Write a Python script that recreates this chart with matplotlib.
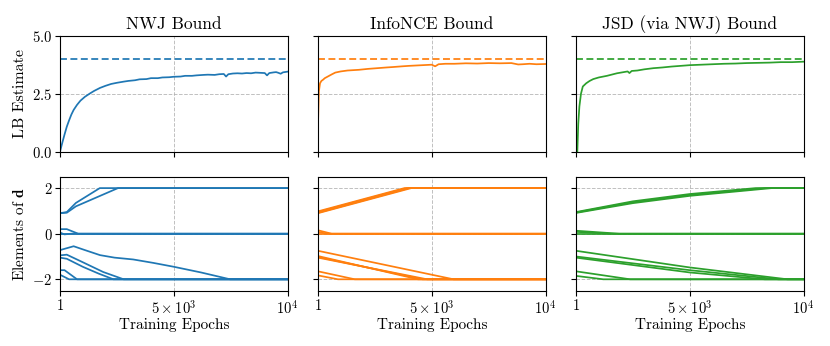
import matplotlib
matplotlib.use("Agg")
import matplotlib.pyplot as plt
import numpy as np

plt.rcParams['font.family'] = ['cmr10', 'DejaVu Serif']
plt.rcParams['mathtext.fontset'] = 'cm'
plt.rcParams['axes.unicode_minus'] = False
plt.rcParams['axes.formatter.use_mathtext'] = True

titles = ["NWJ Bound", "InfoNCE Bound", "JSD (via NWJ) Bound"]
colors = ["#1f77b4", "#ff7f0e", "#2ca02c"]
true_mi = 3.98

# --- LB estimate curves (epoch, value) ---
nwj_ep = [1, 100, 200, 300, 400, 500, 600, 750, 900, 1100, 1300, 1500, 1760, 2000, 2250, 2500,
          2800, 3000, 3300, 3500, 3800, 4000, 4300, 4500, 4800, 5000, 5300, 5500, 5800, 6000,
          6300, 6500, 6800, 7000, 7200, 7300, 7400, 7600, 7800, 8000, 8200, 8400, 8600, 8800,
          9000, 9100, 9200, 9400, 9500, 9600, 9700, 9800, 10000]
nwj_lb = [0.0, 0.38, 0.74, 1.08, 1.35, 1.6, 1.8, 2.02, 2.2, 2.37, 2.5, 2.62, 2.75, 2.84, 2.92, 2.97,
          3.02, 3.05, 3.08, 3.12, 3.13, 3.17, 3.17, 3.2, 3.21, 3.23, 3.24, 3.27, 3.27, 3.29,
          3.31, 3.32, 3.31, 3.34, 3.35, 3.24, 3.34, 3.37, 3.38, 3.37, 3.39, 3.38, 3.41, 3.40,
          3.39, 3.29, 3.39, 3.42, 3.43, 3.40, 3.36, 3.42, 3.45]

nce_ep = [1, 40, 90, 150, 220, 300, 450, 600, 760, 1000, 1300, 1800, 2200, 2600, 3000, 3300,
          3700, 4000, 4400, 4800, 5000, 5150, 5300, 5600, 6000, 6500, 7000, 7500, 8000, 8500,
          8800, 9000, 9300, 9600, 10000]
nce_lb = [1.2, 2.6, 2.95, 3.05, 3.1, 3.17, 3.25, 3.33, 3.41, 3.46, 3.5, 3.53, 3.57, 3.6, 3.63, 3.65,
          3.68, 3.7, 3.72, 3.74, 3.75, 3.68, 3.77, 3.79, 3.79, 3.81, 3.8, 3.82, 3.81, 3.82,
          3.76, 3.77, 3.79, 3.77, 3.78]

jsd_ep = [1, 60, 100, 150, 220, 300, 450, 600, 760, 1000, 1360, 1800, 2270, 2350, 2450, 2700,
          3000, 3400, 3790, 4200, 4600, 5000, 5500, 6000, 6500, 7000, 7500, 8000, 8500, 9000,
          9500, 10000]
jsd_lb = [-1.0, 0.0, 1.2, 1.95, 2.5, 2.81, 2.95, 3.05, 3.13, 3.2, 3.27, 3.38, 3.46, 3.39, 3.48, 3.5,
          3.55, 3.6, 3.63, 3.67, 3.7, 3.73, 3.75, 3.77, 3.79, 3.8, 3.82, 3.83, 3.84, 3.86,
          3.86, 3.88]

lb_ep = [nwj_ep, nce_ep, jsd_ep]
lb_val = [nwj_lb, nce_lb, jsd_lb]

# --- elements of d trajectories: list of (epochs, values) per panel ---
nwj_d = [
    ([1, 300, 700, 1750, 10000], [0.9, 0.95, 1.35, 2.0, 2.0]),
    ([1, 300, 700, 2550, 10000], [0.9, 0.92, 1.2, 2.0, 2.0]),
    ([1, 300, 800, 10000], [0.2, 0.2, 0.0, 0.0]),
    ([1, 200, 500, 10000], [0.05, -0.03, 0.0, 0.0]),
    ([1, 10000], [0.0, 0.0]),
    ([1, 600, 1100, 1760, 2400, 3220, 4100, 5000, 6200, 7480, 10000],
     [-0.72, -0.55, -0.72, -0.94, -1.05, -1.13, -1.28, -1.45, -1.7, -2.0, -2.0]),
    ([1, 300, 1000, 1900, 2800, 10000], [-0.95, -0.92, -1.25, -1.68, -2.0, -2.0]),
    ([1, 300, 1000, 1700, 2350, 10000], [-1.05, -1.1, -1.45, -1.75, -2.0, -2.0]),
    ([1, 200, 750, 10000], [-1.6, -1.6, -2.0, -2.0]),
    ([1, 400, 10000], [-1.8, -2.0, -2.0]),
]
nce_d = [
    ([1, 3800, 10000], [0.98, 2.0, 2.0]),
    ([1, 3900, 10000], [0.95, 2.0, 2.0]),
    ([1, 4000, 10000], [0.92, 2.0, 2.0]),
    ([1, 4100, 10000], [0.9, 2.0, 2.0]),
    ([1, 600, 10000], [0.15, 0.0, 0.0]),
    ([1, 400, 10000], [0.08, 0.0, 0.0]),
    ([1, 10000], [0.0, 0.0]),
    ([1, 5960, 10000], [-0.75, -2.0, -2.0]),
    ([1, 4400, 10000], [-0.98, -2.0, -2.0]),
    ([1, 4600, 10000], [-1.02, -2.0, -2.0]),
    ([1, 4800, 10000], [-1.05, -2.0, -2.0]),
    ([1, 1620, 10000], [-1.65, -2.0, -2.0]),
    ([1, 880, 10000], [-1.83, -2.0, -2.0]),
]
jsd_d = [
    ([1, 2500, 5000, 7900, 10000], [0.95, 1.42, 1.74, 2.0, 2.0]),
    ([1, 2500, 5000, 8300, 10000], [0.93, 1.38, 1.7, 2.0, 2.0]),
    ([1, 2500, 5000, 8600, 10000], [0.91, 1.34, 1.66, 2.0, 2.0]),
    ([1, 1900, 10000], [0.13, 0.0, 0.0]),
    ([1, 1500, 10000], [0.08, 0.0, 0.0]),
    ([1, 10000], [0.0, 0.0]),
    ([1, 5000, 9300, 10000], [-0.75, -1.48, -2.0, -2.0]),
    ([1, 5000, 8900, 10000], [-1.0, -1.6, -2.0, -2.0]),
    ([1, 5000, 8300, 10000], [-1.05, -1.7, -2.0, -2.0]),
    ([1, 2380, 10000], [-1.65, -2.0, -2.0]),
    ([1, 1200, 10000], [-1.85, -2.0, -2.0]),
]
d_traj = [nwj_d, nce_d, jsd_d]

x_ticks = [1, 5000, 10000]
x_ticklabels = [r"$1$", r"$5\times10^3$", r"$10^4$"]
top_yticks = [0.0, 2.5, 5.0]
top_yticklabels = [r"$0.0$", r"$2.5$", r"$5.0$"]
bot_yticks = [-2, 0, 2]
bot_yticklabels = [r"$-2$", r"$0$", r"$2$"]

W, H = 830, 346
fig = plt.figure(figsize=(W / 100, H / 100), dpi=100)
lefts = [60, 318, 576]
aw = 227.5
top_row = (35.7, 151.7)
bot_row = (176.7, 290.7)

def mkax(l, row):
    t, b = row
    return fig.add_axes([l / W, (H - b) / H, aw / W, (b - t) / H])

grid_kw = dict(color="#b0b0b0", linestyle="--", linewidth=0.7, alpha=0.8)
LW = 1.25

for i in range(3):
    axt = mkax(lefts[i], top_row)
    axb = mkax(lefts[i], bot_row)
    c = colors[i]
    axt.plot(lb_ep[i], lb_val[i], color=c, lw=LW)
    axt.axhline(true_mi, color=c, ls="--", lw=LW, dashes=(4, 2))
    axt.set_xlim(1, 10000)
    axt.set_ylim(0, 5)
    axt.set_xticks(x_ticks)
    axt.set_xticklabels([])
    axt.set_yticks(top_yticks)
    axt.grid(True, **grid_kw)
    axt.set_title(titles[i], fontsize=12.5, pad=5)

    for ep, v in d_traj[i]:
        axb.plot(ep, v, color=c, lw=LW)
    axb.set_xlim(1, 10000)
    axb.set_ylim(-2.5, 2.5)
    axb.set_xticks(x_ticks)
    axb.set_xticklabels(x_ticklabels, fontsize=10.5)
    axb.set_yticks(bot_yticks)
    axb.grid(True, **grid_kw)
    axb.set_xlabel("Training Epochs", fontsize=11, labelpad=1)

    if i == 0:
        axt.set_yticklabels(top_yticklabels, fontsize=10.5)
        axb.set_yticklabels(bot_yticklabels, fontsize=10.5)
        axt.set_ylabel("LB Estimate", fontsize=11.5)
        axb.set_ylabel(r"Elements of $\mathbf{d}$", fontsize=11)
    else:
        axt.set_yticklabels([])
        axb.set_yticklabels([])
    for ax in (axt, axb):
        ax.tick_params(direction="out", length=3.5, width=0.8, pad=2)
        for s in ax.spines.values():
            s.set_linewidth(0.8)

fig.savefig("out.png", dpi=100)
